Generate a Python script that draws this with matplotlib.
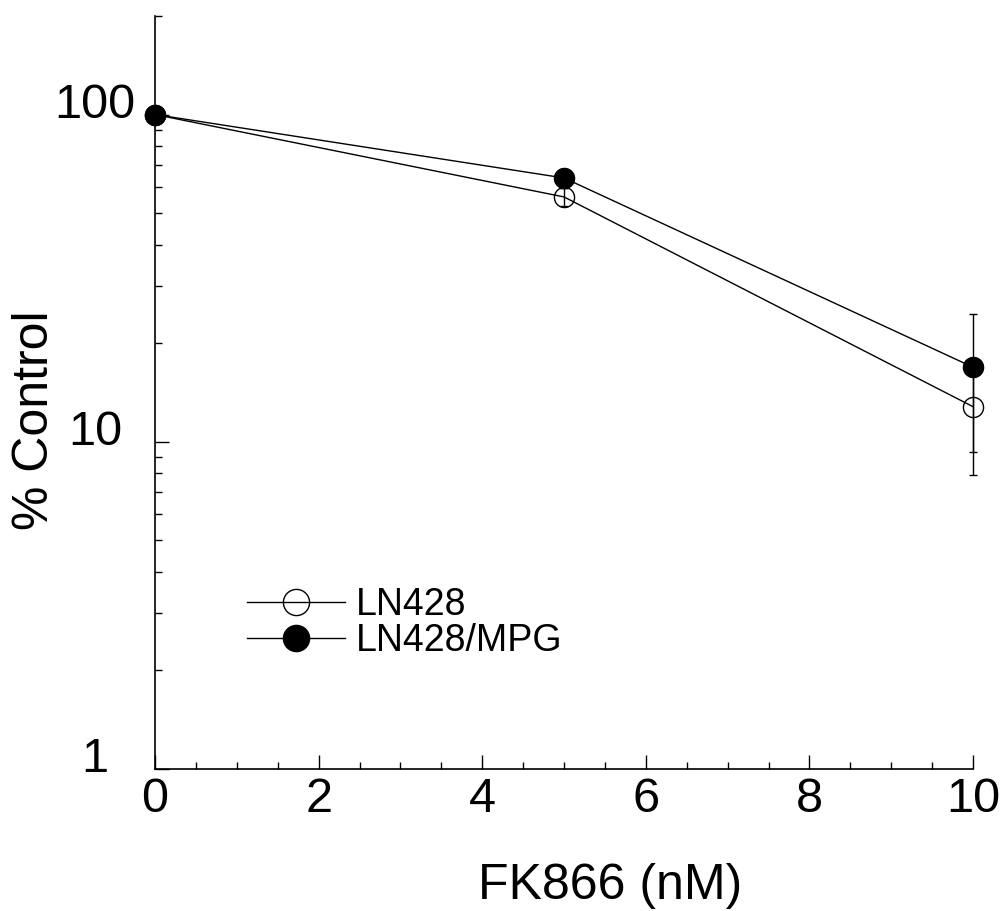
import numpy as np
import matplotlib
matplotlib.use("Agg")
import matplotlib.pyplot as plt
from matplotlib.transforms import ScaledTranslation

plt.rcParams['font.family'] = ['Liberation Sans', 'DejaVu Sans']

# Data
dose = [0, 5, 10]
ln428 = [100, 56, 12.8]
ln428_err = [0, 3.6, 4.9]
mpg = [100, 64, 16.9]
mpg_err = [0, 4.4, 7.6]

y_ticks = [1, 10, 100]
y_ticklabels = ["1", "10", "100"]
x_ticks = [0, 2, 4, 6, 8, 10]


def main():
    fig = plt.figure(figsize=(10.06, 9.11), dpi=100)
    ax = fig.add_axes([0.1541, 0.1559, 0.8131, 0.8265])

    # open circles first, filled on top
    open_c = ax.errorbar(dose, ln428, yerr=ln428_err, color='black', lw=1,
                         marker='o', ms=14.5, mfc='none', mec='black', mew=1,
                         capsize=3, capthick=1, elinewidth=1, label='LN428')
    fill_c = ax.errorbar(dose, mpg, yerr=mpg_err, color='black', lw=1,
                         marker='o', ms=14.5, mfc='black', mec='black', mew=1,
                         capsize=3, capthick=1, elinewidth=1, label='LN428/MPG')
    for cont in (open_c, fill_c):
        for art in cont.get_children():
            art.set_clip_on(False)

    ax.set_yscale('log')
    ax.set_ylim(1, 200)
    ax.set_xlim(0, 10)
    ax.set_yticks(y_ticks)
    ax.set_yticklabels(y_ticklabels)
    ax.set_xticks(x_ticks)
    ax.set_xticks(np.arange(0, 10.5, 0.5), minor=True)

    for side in ['top', 'right']:
        ax.spines[side].set_visible(False)
    ax.spines['left'].set_linewidth(1.2)
    ax.spines['bottom'].set_linewidth(1.2)

    ax.tick_params(which='both', direction='in', width=1, labelsize=35)
    ax.tick_params(which='major', length=10)
    ax.tick_params(which='minor', length=5)
    ax.tick_params(axis='x', pad=6)
    ax.tick_params(axis='y', pad=43)
    ax.tick_params(axis='y', which='minor', labelleft=False)

    # y labels sit a bit above their ticks, centred on each other
    offset = ScaledTranslation(0, 0.14, fig.dpi_scale_trans)
    for lab in ax.yaxis.get_majorticklabels():
        lab.set_ha('center')
        lab.set_transform(lab.get_transform() + offset)

    ax.set_xlabel('FK866 (nM)', fontsize=36, va='center')
    ax.xaxis.set_label_coords(0.556, -0.155)
    ax.set_ylabel('% Control', fontsize=36, va='center')
    ax.yaxis.set_label_coords(-0.147, 0.463)

    # legend shows only line + marker, no error bars
    handles = [open_c[0], fill_c[0]]
    labels = ['LN428', 'LN428/MPG']
    ax.legend(handles, labels, loc='center left', bbox_to_anchor=(0.09, 0.194),
              frameon=False, fontsize=27, handlelength=2.6, handletextpad=0.3,
              labelspacing=0.0, markerscale=1.3, borderpad=0)

    fig.savefig('out.png', dpi=100)


if __name__ == "__main__":
    main()
